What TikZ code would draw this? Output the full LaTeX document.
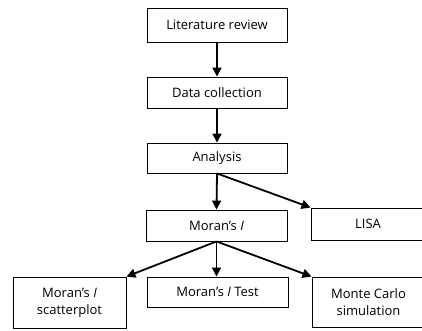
\documentclass[tikz,border=0pt]{standalone}
\usepackage{fontspec}
\setmainfont{Open Sans}
\usetikzlibrary{arrows.meta}
\begin{document}
\begin{tikzpicture}[x=1pt,y=-1pt,
  box/.style={draw=black,line width=0.9pt,inner sep=0pt,align=center,font=\fontsize{13}{17}\selectfont,text=black},
  arr/.style={line width=1.8pt,-{Triangle[length=9pt,width=9pt]}}]
\useasboundingbox (0,0) rectangle (422,330);
\clip (0,0) rectangle (422,330);
\node[box,minimum width=140pt,minimum height=34pt] (lit) at (217,25) {Literature review};
\node[box,minimum width=140pt,minimum height=31pt] (data) at (217,92.5) {Data collection};
\node[box,minimum width=140pt,minimum height=30pt] (ana) at (217,158) {Analysis};
\node[box,minimum width=141pt,minimum height=31pt] (moran) at (216.5,225.5) {Moran’s \textit{I}};
\node[box,minimum width=114pt,minimum height=32pt] (lisa) at (368,224) {LISA};
\node[box,minimum width=113pt,minimum height=51pt] (scat) at (69.5,302.5) {Moran’s \textit{I}\\scatterplot};
\node[box,minimum width=141pt,minimum height=30pt] (test) at (217.5,292) {Moran’s \textit{I} Test};
\node[box,minimum width=113pt,minimum height=50pt] (monte) at (368.5,302) {Monte Carlo\\simulation};
\draw[arr] (lit.south) -- (data.north);
\draw[arr] (data.south) -- (ana.north);
\draw[arr] (ana.south) -- (moran.north);
\draw[arr] (ana.south) -- (lisa.north west);
\draw[arr] (moran.south) -- (scat.north east);
\draw[arr] (moran.south) -- (test.north -| moran.south);
\draw[arr] (moran.south) -- (monte.north west);
\end{tikzpicture}
\end{document}
